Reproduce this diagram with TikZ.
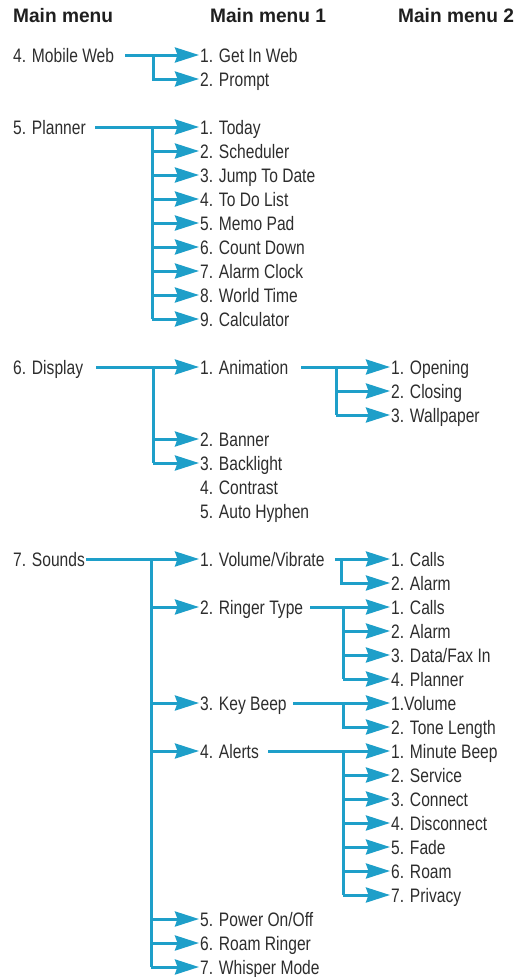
\documentclass[tikz,border=0pt]{standalone}
\usepackage{fontspec}
\setmainfont[FakeStretch=0.8]{Liberation Sans}
\newfontfamily\hdrfont[FakeStretch=0.98]{Liberation Sans}
\usetikzlibrary{arrows.meta}
\definecolor{lineblue}{RGB}{30,159,201}
\definecolor{txt}{RGB}{45,45,45}
\begin{document}
\begin{tikzpicture}[x=1pt,y=-1pt,
  lbl/.style={anchor=west,inner sep=0pt,text height=14pt,text depth=0pt,font=\fontsize{19.5}{20}\selectfont,text=txt},
  hdr/.style={anchor=west,inner sep=0pt,text height=14pt,text depth=0pt,font=\hdrfont\fontsize{19.5}{20}\selectfont\bfseries,text=black!88},
  conn/.style={draw=lineblue,line width=3pt,-{Stealth[length=24pt,width=15pt,inset=2.5pt]},shorten >=1pt},
  bar/.style={draw=lineblue,line width=3pt}]
\useasboundingbox (0,0) rectangle (521,977);
% headers
\node[hdr] (h0) at (13,16) {Main menu};
\node[hdr] (h1) at (210,16) {Main menu 1};
\node[hdr] (h2) at (398,16) {Main menu 2};
% 4. Mobile Web
\node[lbl] (mw) at (13,55) {4. Mobile Web};
\node[lbl] (mw1) at (200,55) {1. Get In Web};
\node[lbl] (mw2) at (200,79) {2. Prompt};
\coordinate (mws) at (125,55);
\coordinate (mwb) at (153,55);
\draw[conn] (mws) -- (mw1.west);
\draw[conn] (mwb) |- (mw2.west);
% 5. Planner
\node[lbl] (pl) at (13,127) {5. Planner};
\node[lbl] (pl1) at (200,127) {1. Today};
\node[lbl] (pl2) at (200,151) {2. Scheduler};
\node[lbl] (pl3) at (200,175) {3. Jump To Date};
\node[lbl] (pl4) at (200,199) {4. To Do List};
\node[lbl] (pl5) at (200,223) {5. Memo Pad};
\node[lbl] (pl6) at (200,247) {6. Count Down};
\node[lbl] (pl7) at (200,271) {7. Alarm Clock};
\node[lbl] (pl8) at (200,295) {8. World Time};
\node[lbl] (pl9) at (200,319) {9. Calculator};
\coordinate (pls) at (95,127);
\coordinate (plb) at (152,127);
\draw[conn] (pls) -- (pl1.west);
\draw[bar] (plb) -- (plb |- pl9.west);
\foreach \n in {pl2,pl3,pl4,pl5,pl6,pl7,pl8,pl9}
  \draw[conn] (plb |- \n.west) -- (\n.west);
% 6. Display
\node[lbl] (di) at (13,367) {6. Display};
\node[lbl] (di1) at (200,367) {1. Animation};
\node[lbl] (di2) at (200,439) {2. Banner};
\node[lbl] (di3) at (200,463) {3. Backlight};
\node[lbl] (di4) at (200,487) {4. Contrast};
\node[lbl] (di5) at (200,511) {5. Auto Hyphen};
\coordinate (dis) at (96,367);
\coordinate (dib) at (153,367);
\draw[conn] (dis) -- (di1.west);
\draw[bar] (dib) -- (dib |- di3.west);
\foreach \n in {di2,di3}
  \draw[conn] (dib |- \n.west) -- (\n.west);
% Animation submenu
\node[lbl] (an1) at (391,367) {1. Opening};
\node[lbl] (an2) at (391,391) {2. Closing};
\node[lbl] (an3) at (391,415) {3. Wallpaper};
\coordinate (ans) at (301,367);
\coordinate (anb) at (336,367);
\draw[conn] (ans) -- (an1.west);
\draw[bar] (anb) -- (anb |- an3.west);
\foreach \n in {an2,an3}
  \draw[conn] (anb |- \n.west) -- (\n.west);
% 7. Sounds
\node[lbl] (so) at (13,559) {7. Sounds};
\node[lbl] (so1) at (200,559) {1. Volume/Vibrate};
\node[lbl] (so2) at (200,607) {2. Ringer Type};
\node[lbl] (so3) at (200,703) {3. Key Beep};
\node[lbl] (so4) at (200,751) {4. Alerts};
\node[lbl] (so5) at (200,919) {5. Power On/Off};
\node[lbl] (so6) at (200,943) {6. Roam Ringer};
\node[lbl] (so7) at (200,967) {7. Whisper Mode};
\coordinate (sos) at (86,559);
\coordinate (sob) at (151,559);
\draw[conn] (sos) -- (so1.west);
\draw[bar] (sob) -- (sob |- so7.west);
\foreach \n in {so2,so3,so4,so5,so6,so7}
  \draw[conn] (sob |- \n.west) -- (\n.west);
% Volume/Vibrate submenu
\node[lbl] (vv1) at (391,559) {1. Calls};
\node[lbl] (vv2) at (391,583) {2. Alarm};
\coordinate (vvs) at (335,559);
\coordinate (vvb) at (341,559);
\draw[conn] (vvs) -- (vv1.west);
\draw[conn] (vvb) |- (vv2.west);
% Ringer Type submenu
\node[lbl] (rt1) at (391,607) {1. Calls};
\node[lbl] (rt2) at (391,631) {2. Alarm};
\node[lbl] (rt3) at (391,655) {3. Data/Fax In};
\node[lbl] (rt4) at (391,679) {4. Planner};
\coordinate (rts) at (310,607);
\coordinate (rtb) at (343,607);
\draw[conn] (rts) -- (rt1.west);
\draw[bar] (rtb) -- (rtb |- rt4.west);
\foreach \n in {rt2,rt3,rt4}
  \draw[conn] (rtb |- \n.west) -- (\n.west);
% Key Beep submenu
\node[lbl] (kb1) at (391,703) {1.Volume};
\node[lbl] (kb2) at (391,727) {2. Tone Length};
\coordinate (kbs) at (293,703);
\coordinate (kbb) at (343,703);
\draw[conn] (kbs) -- (kb1.west);
\draw[conn] (kbb) |- (kb2.west);
% Alerts submenu
\node[lbl] (al1) at (391,751) {1. Minute Beep};
\node[lbl] (al2) at (391,775) {2. Service};
\node[lbl] (al3) at (391,799) {3. Connect};
\node[lbl] (al4) at (391,823) {4. Disconnect};
\node[lbl] (al5) at (391,847) {5. Fade};
\node[lbl] (al6) at (391,871) {6. Roam};
\node[lbl] (al7) at (391,895) {7. Privacy};
\coordinate (als) at (268,751);
\coordinate (alb) at (343,751);
\draw[conn] (als) -- (al1.west);
\draw[bar] (alb) -- (alb |- al7.west);
\foreach \n in {al2,al3,al4,al5,al6,al7}
  \draw[conn] (alb |- \n.west) -- (\n.west);
\end{tikzpicture}
\end{document}
